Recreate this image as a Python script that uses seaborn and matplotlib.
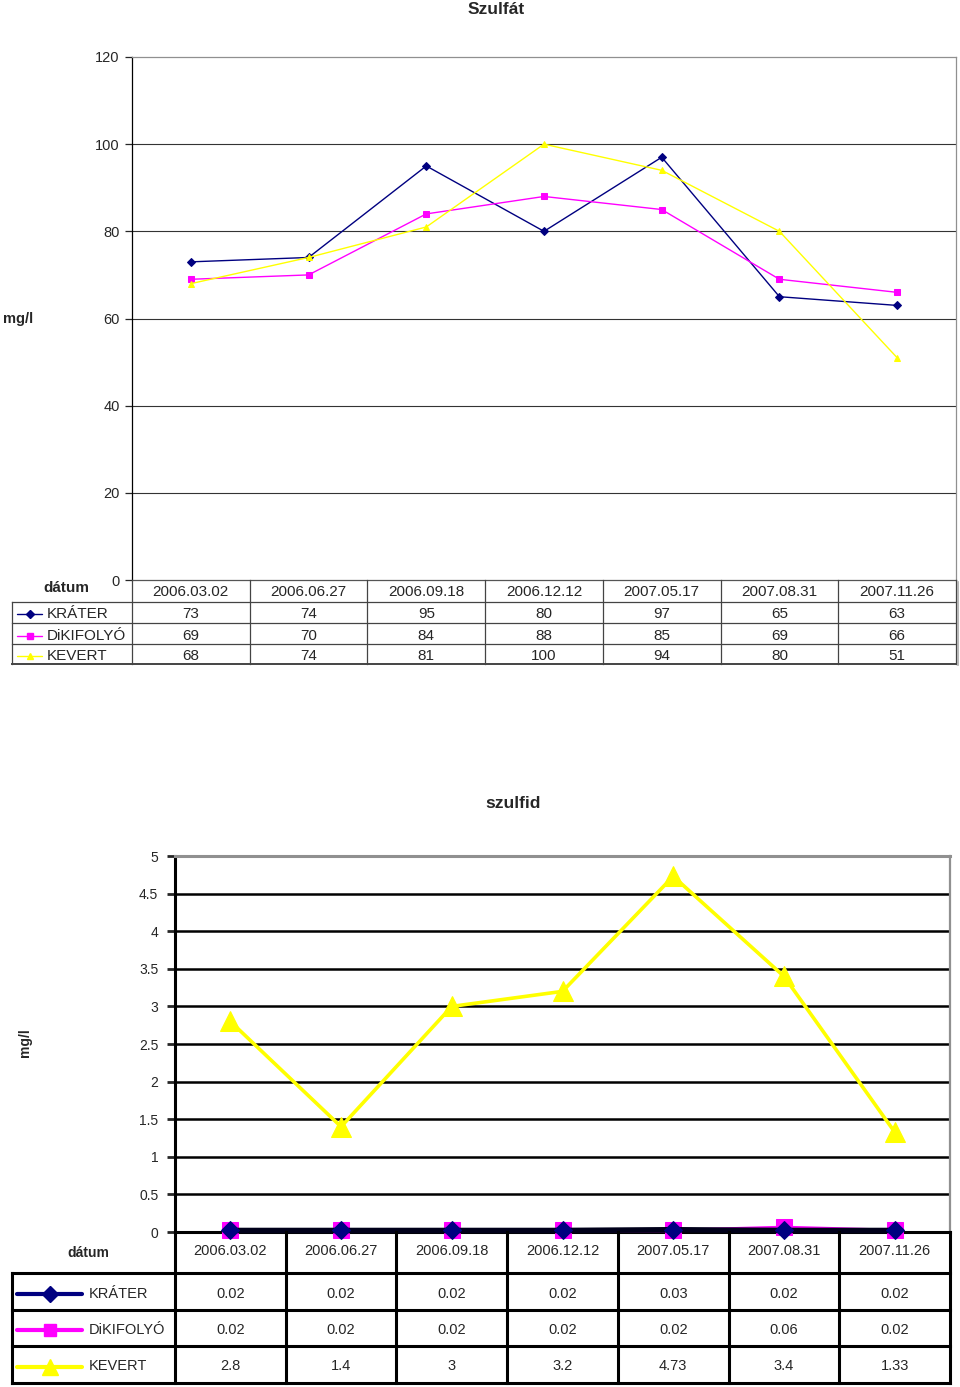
import pandas as pd
import seaborn as sns
import matplotlib
matplotlib.use("Agg")
import matplotlib.pyplot as plt
from matplotlib.lines import Line2D

dates = ['2006.03.02', '2006.06.27', '2006.09.18', '2006.12.12',
         '2007.05.17', '2007.08.31', '2007.11.26']
series_names = ['KRÁTER', 'DiKIFOLYÓ', 'KEVERT']

# Szulfát (mg/l)
krater_so4 = [73, 74, 95, 80, 97, 65, 63]
dikifolyo_so4 = [69, 70, 84, 88, 85, 69, 66]
kevert_so4 = [68, 74, 81, 100, 94, 80, 51]

# szulfid (mg/l)
krater_s = [0.02, 0.02, 0.02, 0.02, 0.03, 0.02, 0.02]
dikifolyo_s = [0.02, 0.02, 0.02, 0.02, 0.02, 0.06, 0.02]
kevert_s = [2.8, 1.4, 3, 3.2, 4.73, 3.4, 1.33]

colors = {'KRÁTER': '#000080', 'DiKIFOLYÓ': '#FF00FF', 'KEVERT': '#FFFF00'}
marks = {'KRÁTER': 'D', 'DiKIFOLYÓ': 's', 'KEVERT': '^'}

sns.set_style("white")
plt.rcParams['font.family'] = ['Liberation Sans', 'DejaVu Sans']

W, H = 960, 1387
fig = plt.figure(figsize=(W / 100, H / 100), dpi=100)


def fx(px):
    return px / W


def fy(py):
    return 1 - py / H


def seg(x0, y0, x1, y1, lw=1.0, color='black', **kw):
    fig.add_artist(Line2D([fx(x0), fx(x1)], [fy(y0), fy(y1)],
                          transform=fig.transFigure, lw=lw, color=color,
                          solid_capstyle='projecting', **kw))


def make_df(vals):
    rows = []
    for name, v in zip(series_names, vals):
        for i, d in enumerate(dates):
            rows.append({'pos': i, 'dátum': d, 'sorozat': name, 'mg/l': v[i]})
    return pd.DataFrame(rows)


def setup_axes(left, top, right, bottom):
    return fig.add_axes([fx(left), fy(bottom), (right - left) / W, (bottom - top) / H])


# ---------------- Chart 1: Szulfát ----------------
L1, T1, R1, B1 = 132, 57, 956, 580
ax1 = setup_axes(L1, T1, R1, B1)
df1 = make_df([krater_so4, dikifolyo_so4, kevert_so4])
ms1 = {'KRÁTER': 4, 'DiKIFOLYÓ': 4.5, 'KEVERT': 5}
for name in series_names:
    sns.lineplot(data=df1[df1['sorozat'] == name], x='pos', y='mg/l', ax=ax1,
                 color=colors[name], marker=marks[name], markersize=ms1[name],
                 markeredgecolor=colors[name], lw=1.0, sort=False, legend=False,
                 errorbar=None)
ax1.set_xlim(-0.5, 6.5)
ax1.set_ylim(0, 120)
ax1.set_yticks(range(0, 121, 20))
ax1.set_xticks([])
ax1.set_xlabel('')
ax1.set_ylabel('')
for yv in range(20, 120, 20):
    ax1.axhline(yv, color='#333333', lw=0.8, zorder=0)
ax1.spines['top'].set_color('#909090')
ax1.spines['right'].set_color('#909090')
ax1.spines['left'].set_color('black')
ax1.spines['bottom'].set_color('#555555')
for sp in ax1.spines.values():
    sp.set_linewidth(0.9)
ax1.tick_params(axis='y', direction='out', length=5, width=0.9, pad=4,
                labelsize=10.5, left=True)
fig.text(fx(496), fy(9), 'Szulfát', ha='center', va='center',
         fontsize=12.5, fontweight='bold')
fig.text(fx(18), fy(319), 'mg/l', ha='center', va='center',
         fontsize=10.5, fontweight='bold')
fig.text(fx(66), fy(588), 'dátum', ha='center', va='center',
         fontsize=11, fontweight='bold')

# table 1
cw1 = (R1 - L1) / 7
rows1 = [580, 602, 623, 644, 664]
tc = '#444444'
for i in range(8):
    x = L1 + i * cw1
    seg(x, rows1[0], x, rows1[-1], lw=0.9, color=tc)
for r in rows1[1:]:
    seg(12, r, R1, r, lw=0.9 if r != rows1[-1] else 1.4, color=tc)
seg(12, rows1[1], 12, rows1[-1], lw=0.9, color=tc)
seg(R1 + 1.5, rows1[0] + 2, R1 + 1.5, rows1[-1] + 1, lw=1.2, color='#aaaaaa')
for i, d in enumerate(dates):
    fig.text(fx(L1 + (i + 0.5) * cw1), fy(592), d, ha='center', va='center', fontsize=11)
for k, (name, vals) in enumerate(zip(series_names, [krater_so4, dikifolyo_so4, kevert_so4])):
    yc = (rows1[k + 1] + rows1[k + 2]) / 2 + 2
    fig.add_artist(Line2D([fx(17), fx(42)], [fy(yc), fy(yc)], transform=fig.transFigure,
                          color=colors[name], lw=1.0))
    fig.add_artist(Line2D([fx(30)], [fy(yc)], transform=fig.transFigure, color=colors[name],
                          marker=marks[name], markersize=ms1[name], lw=0))
    fig.text(fx(47), fy(yc), name, ha='left', va='center', fontsize=11)
    for i, v in enumerate(vals):
        fig.text(fx(L1 + (i + 0.5) * cw1), fy(yc), f"{v:g}", ha='center', va='center',
                 fontsize=11)

# ---------------- Chart 2: szulfid ----------------
L2, T2, R2, B2 = 175, 856, 950, 1232
ax2 = setup_axes(L2, T2, R2, B2)
df2 = make_df([krater_s, dikifolyo_s, kevert_s])
ms2 = {'KRÁTER': 9, 'DiKIFOLYÓ': 11, 'KEVERT': 14}
z2 = {'KRÁTER': 4, 'DiKIFOLYÓ': 3, 'KEVERT': 5}
for name in ['DiKIFOLYÓ', 'KRÁTER', 'KEVERT']:
    lc = '#00001a' if name == 'KRÁTER' else colors[name]
    sns.lineplot(data=df2[df2['sorozat'] == name], x='pos', y='mg/l', ax=ax2,
                 color=lc, marker=marks[name], markersize=ms2[name],
                 markerfacecolor=colors[name], markeredgecolor=colors[name],
                 lw=4 if name == 'KRÁTER' else 2.6, sort=False, legend=False,
                 errorbar=None, zorder=z2[name], clip_on=False)
ax2.set_xlim(-0.5, 6.5)
ax2.set_ylim(0, 5)
yt2 = [0, 0.5, 1, 1.5, 2, 2.5, 3, 3.5, 4, 4.5, 5]
ax2.set_yticks(yt2)
ax2.set_yticklabels([f"{v:g}" for v in yt2])
ax2.set_xticks([])
ax2.set_xlabel('')
ax2.set_ylabel('')
for yv in yt2[1:-1]:
    ax2.axhline(yv, color='black', lw=1.8, zorder=0)
ax2.spines['top'].set_color('#909090')
ax2.spines['right'].set_color('#909090')
ax2.spines['top'].set_linewidth(2.2)
ax2.spines['right'].set_linewidth(1.6)
ax2.spines['left'].set_color('black')
ax2.spines['left'].set_linewidth(2.2)
ax2.spines['bottom'].set_color('black')
ax2.spines['bottom'].set_linewidth(2.2)
ax2.tick_params(axis='y', direction='out', length=6, width=2, pad=6,
                labelsize=10, left=True)
fig.text(fx(513), fy(803), 'szulfid', ha='center', va='center',
         fontsize=12.5, fontweight='bold')
fig.text(fx(25), fy(1043), 'mg/l', ha='center', va='center', rotation=90,
         fontsize=10, fontweight='bold')
fig.text(fx(88), fy(1253), 'dátum', ha='center', va='center',
         fontsize=10, fontweight='bold')

# table 2
cw2 = (R2 - L2) / 7
rows2 = [1232, 1273, 1310, 1346, 1383]
for i in range(8):
    x = L2 + i * cw2
    seg(x, rows2[0], x, rows2[-1], lw=2.2)
for r in rows2[1:]:
    seg(12, r, R2, r, lw=2.2)
seg(12, rows2[1], 12, rows2[-1], lw=2.2)
for i, d in enumerate(dates):
    fig.text(fx(L2 + (i + 0.5) * cw2), fy(1251), d, ha='center', va='center', fontsize=10.5)
for k, (name, vals) in enumerate(zip(series_names, [krater_s, dikifolyo_s, kevert_s])):
    yc = (rows2[k + 1] + rows2[k + 2]) / 2 + 2
    fig.add_artist(Line2D([fx(17), fx(82)], [fy(yc), fy(yc)], transform=fig.transFigure,
                          color=colors[name], lw=3))
    fig.add_artist(Line2D([fx(50)], [fy(yc)], transform=fig.transFigure, color=colors[name],
                          marker=marks[name], markersize=ms2[name] * 0.85, lw=0))
    fig.text(fx(89), fy(yc), name, ha='left', va='center', fontsize=10.5)
    for i, v in enumerate(vals):
        fig.text(fx(L2 + (i + 0.5) * cw2), fy(yc), f"{v:g}", ha='center', va='center',
                 fontsize=10.5)

fig.savefig('out.png', dpi=100)
